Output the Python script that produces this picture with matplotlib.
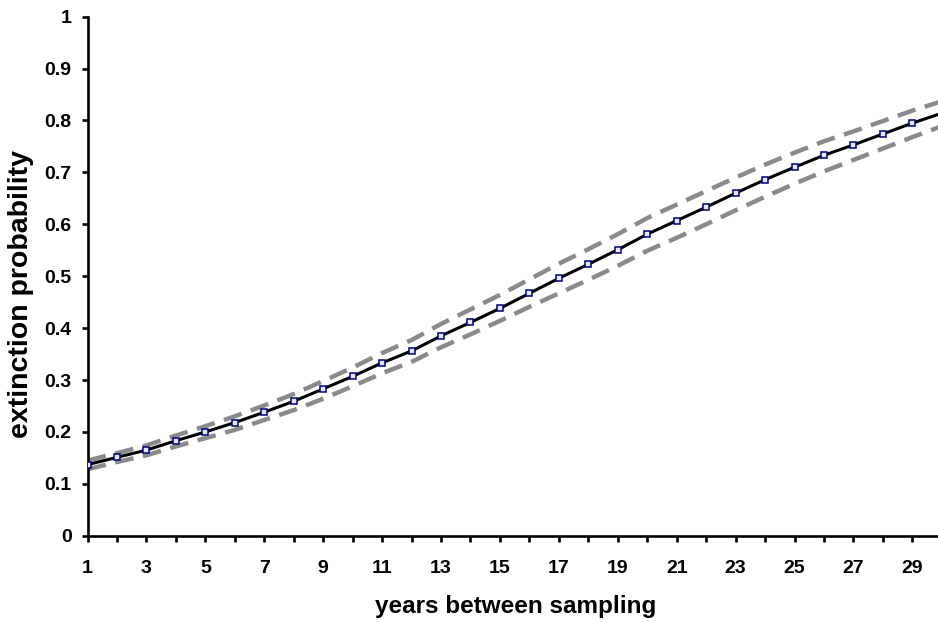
import matplotlib
matplotlib.use("Agg")
import matplotlib.pyplot as plt

plt.rcParams["font.family"] = ["Liberation Sans", "DejaVu Sans"]
plt.rcParams["font.weight"] = "bold"
plt.rcParams["lines.scale_dashes"] = False

# values
years = list(range(1, 31))
p_mean = [0.137, 0.151, 0.165, 0.183, 0.200, 0.218, 0.238, 0.259, 0.283, 0.307,
          0.333, 0.356, 0.385, 0.411, 0.438, 0.467, 0.496, 0.523, 0.551, 0.581,
          0.607, 0.633, 0.660, 0.686, 0.710, 0.733, 0.753, 0.774, 0.795, 0.814]
p_upper = [0.145, 0.159, 0.174, 0.193, 0.211, 0.230, 0.251, 0.273, 0.298, 0.324,
           0.352, 0.377, 0.408, 0.436, 0.464, 0.494, 0.524, 0.552, 0.581, 0.612,
           0.638, 0.664, 0.690, 0.715, 0.738, 0.760, 0.779, 0.799, 0.819, 0.837]
p_lower = [0.128, 0.142, 0.155, 0.172, 0.188, 0.204, 0.223, 0.242, 0.264, 0.288,
           0.313, 0.335, 0.363, 0.388, 0.414, 0.441, 0.467, 0.493, 0.520, 0.549,
           0.574, 0.600, 0.627, 0.653, 0.678, 0.702, 0.724, 0.746, 0.768, 0.789]
x_ticks = list(range(1, 30))
x_labels = [str(v) if v % 2 == 1 else "" for v in x_ticks]
y_ticks = [0, 0.1, 0.2, 0.3, 0.4, 0.5, 0.6, 0.7, 0.8, 0.9, 1]
y_labels = ["0", "0.1", "0.2", "0.3", "0.4", "0.5", "0.6", "0.7", "0.8", "0.9", "1"]

fig = plt.figure(figsize=(9.38, 6.22), dpi=100)
ax = fig.add_axes([0.0933, 0.1387, 0.9067, 0.8345])

for band in (p_upper, p_lower):
    ax.plot(years, band, color="#8a8a8a", lw=3.2, dashes=(13.5, 7.0),
            dash_capstyle="butt", zorder=2)
ax.plot(years, p_mean, color="black", lw=2.2, zorder=3)
ax.plot(years[:29], p_mean[:29], ls="none", marker="s", ms=4.8, mfc="#e4e8f6",
        mec="#000080", mew=1.1, zorder=4)

ax.set_xlim(1, 29.87)
ax.set_ylim(0, 1)
ax.set_xticks(x_ticks)
ax.set_xticklabels(x_labels)
ax.set_yticks(y_ticks)
ax.set_yticklabels(y_labels)
for s in ("top", "right"):
    ax.spines[s].set_visible(False)
for s in ("left", "bottom"):
    ax.spines[s].set_linewidth(1.9)
ax.tick_params(axis="both", direction="out", length=4.5, width=1.9, labelsize=14)
ax.tick_params(axis="y", pad=7)
ax.tick_params(axis="x", pad=13)

fig.text(516 / 938, 1 - 606 / 622, "years between sampling", ha="center", va="center",
         fontsize=17.5, fontweight="bold")
fig.text(21 / 938, 1 - 294 / 622, "extinction probability", ha="center", va="center",
         rotation=90, fontsize=20.5, fontweight="bold")

fig.savefig("out.png", dpi=100)
